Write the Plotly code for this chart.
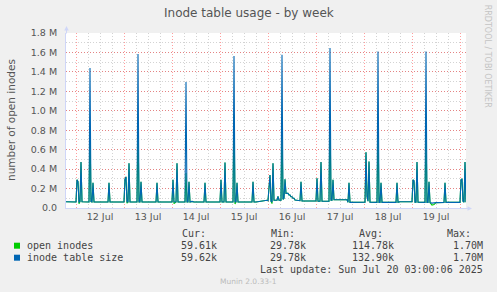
import plotly.graph_objects as go

# ---------------- data (values in millions of inodes, 30-min samples) ----------------
day_dates = ["2025-07-11", "2025-07-12", "2025-07-13", "2025-07-14", "2025-07-15",
             "2025-07-16", "2025-07-17", "2025-07-18", "2025-07-19", "2025-07-20"]

clock_times = [
    ["19:00", "23:30"],
    ["00:00", "00:30", "01:00", "01:30", "02:00", "02:30", "03:00", "06:30", "07:00", "07:30",
     "08:00", "08:30", "09:00", "16:00", "16:30", "17:00", "23:30"],
    ["00:00", "00:30", "01:00", "01:30", "02:00", "02:30", "03:00", "06:30", "07:00", "07:30",
     "08:00", "08:30", "09:00", "16:00", "16:30", "17:00", "23:30"],
    ["00:00", "00:30", "01:00", "02:00", "02:30", "03:00", "06:30", "07:00", "07:30", "08:00",
     "08:30", "09:00", "10:00", "11:00", "16:00", "16:30", "17:00", "23:30"],
    ["00:00", "00:30", "01:00", "02:00", "02:30", "03:00", "06:30", "07:00", "07:30", "08:00",
     "08:30", "09:00", "16:00", "16:30", "17:00", "18:00", "20:00", "22:00", "23:30"],
    ["00:00", "00:30", "01:00", "01:30", "02:00", "02:30", "03:00", "04:30", "05:00", "05:30",
     "06:30", "07:00", "07:30", "08:00", "08:30", "09:00", "10:00", "10:30", "11:00", "11:30",
     "12:00", "12:30", "13:00", "13:30", "15:30", "16:00", "16:30", "17:00", "23:30"],
    ["00:00", "00:30", "01:00", "02:00", "02:30", "03:00", "06:30", "07:00", "07:30", "08:00",
     "08:30", "09:00", "15:30", "16:00", "16:30", "17:00", "23:30"],
    ["00:00", "00:30", "01:00", "01:30", "02:00", "02:30", "03:00", "06:30", "07:00", "07:30",
     "08:00", "08:30", "09:00", "16:00", "16:30", "17:00", "18:00", "23:30"],
    ["00:00", "00:30", "01:00", "01:30", "02:00", "02:30", "03:00", "06:30", "07:00", "07:30",
     "08:00", "08:30", "09:00", "10:00", "11:00", "12:00", "16:00", "16:30", "17:00", "23:30"],
    ["00:00", "00:30", "01:00", "01:30", "02:00", "02:30", "03:00"],
]

inode_table_size = [
    [0.065, 0.062],
    [0.062, 0.29, 0.27, 0.06, 0.065, 0.474, 0.065, 0.062, 1.44, 0.065,
     0.062, 0.26, 0.062, 0.062, 0.26, 0.062, 0.062],
    [0.062, 0.296, 0.32, 0.062, 0.062, 0.46, 0.062, 0.062, 1.585, 0.062,
     0.062, 0.27, 0.062, 0.062, 0.26, 0.062, 0.062],
    [0.062, 0.29, 0.062, 0.062, 0.46, 0.062, 0.062, 1.296, 0.062, 0.062,
     0.27, 0.062, 0.068, 0.062, 0.062, 0.26, 0.062, 0.062],
    [0.062, 0.29, 0.062, 0.062, 0.467, 0.062, 0.062, 1.564, 0.062, 0.062,
     0.26, 0.062, 0.062, 0.27, 0.062, 0.062, 0.07, 0.075, 0.08],
    [0.075, 0.28, 0.34, 0.07, 0.06, 0.46, 0.08, 0.08, 0.12, 0.08,
     0.08, 1.577, 0.09, 0.1, 0.296, 0.15, 0.15, 0.134, 0.134, 0.116,
     0.116, 0.1, 0.1, 0.082, 0.082, 0.075, 0.27, 0.072, 0.072],
    [0.072, 0.306, 0.07, 0.07, 0.474, 0.07, 0.07, 1.646, 0.08, 0.08,
     0.29, 0.085, 0.085, 0.06, 0.26, 0.058, 0.058],
    [0.058, 0.06, 0.574, 0.12, 0.07, 0.477, 0.06, 0.058, 1.61, 0.058,
     0.058, 0.26, 0.058, 0.058, 0.26, 0.058, 0.065, 0.065],
    [0.065, 0.29, 0.28, 0.06, 0.06, 0.474, 0.06, 0.058, 1.61, 0.058,
     0.058, 0.27, 0.055, 0.05, 0.05, 0.055, 0.058, 0.26, 0.058, 0.058],
    [0.058, 0.29, 0.30, 0.07, 0.06, 0.474, 0.0596],
]

open_inodes = [
    [0.065, 0.062],
    [0.062, 0.29, 0.27, 0.045, 0.065, 0.474, 0.065, 0.062, 0.82, 0.065,
     0.062, 0.26, 0.062, 0.062, 0.26, 0.062, 0.062],
    [0.062, 0.296, 0.32, 0.05, 0.062, 0.46, 0.062, 0.062, 0.84, 0.062,
     0.062, 0.27, 0.062, 0.062, 0.26, 0.062, 0.062],
    [0.062, 0.29, 0.045, 0.062, 0.46, 0.062, 0.062, 0.36, 0.062, 0.062,
     0.27, 0.062, 0.068, 0.062, 0.062, 0.26, 0.062, 0.062],
    [0.062, 0.29, 0.062, 0.062, 0.467, 0.062, 0.062, 0.96, 0.04, 0.062,
     0.26, 0.062, 0.062, 0.27, 0.062, 0.062, 0.07, 0.075, 0.08],
    [0.075, 0.28, 0.34, 0.07, 0.045, 0.46, 0.08, 0.08, 0.12, 0.08,
     0.08, 0.83, 0.09, 0.1, 0.296, 0.15, 0.15, 0.134, 0.134, 0.116,
     0.116, 0.1, 0.1, 0.082, 0.082, 0.075, 0.27, 0.072, 0.072],
    [0.072, 0.306, 0.07, 0.07, 0.474, 0.07, 0.07, 0.94, 0.08, 0.08,
     0.29, 0.085, 0.085, 0.06, 0.26, 0.058, 0.058],
    [0.058, 0.06, 0.574, 0.12, 0.07, 0.477, 0.06, 0.058, 0.83, 0.058,
     0.058, 0.26, 0.058, 0.058, 0.26, 0.058, 0.065, 0.065],
    [0.065, 0.29, 0.28, 0.06, 0.06, 0.474, 0.06, 0.058, 0.83, 0.058,
     0.058, 0.27, 0.055, 0.03, 0.035, 0.055, 0.058, 0.26, 0.058, 0.058],
    [0.058, 0.29, 0.30, 0.07, 0.06, 0.474, 0.0596],
]

x_range = ["2025-07-11 19:00", "2025-07-20 03:00"]
y_tick_vals = [0.0, 0.2, 0.4, 0.6, 0.8, 1.0, 1.2, 1.4, 1.6, 1.8]
y_tick_text = ["0.0", "0.2 M", "0.4 M", "0.6 M", "0.8 M", "1.0 M", "1.2 M", "1.4 M", "1.6 M", "1.8 M"]

series_names = ["open inodes", "inode table size"]
series_colors = ["#00CC00", "#0066B3"]
stat_cur = ["59.61k", "59.62k"]
stat_min = ["29.78k", "29.78k"]
stat_avg = ["114.78k", "132.90k"]
stat_max = ["1.70M", "1.70M"]

# ---------------- flatten ----------------
times, size_vals, open_vals = [], [], []
for d, cl, s, o in zip(day_dates, clock_times, inode_table_size, open_inodes):
    assert len(cl) == len(s) == len(o), d
    times += [f"{d} {c}" for c in cl]
    size_vals += s
    open_vals += o

# ---------------- layout geometry ----------------
W, H = 497, 292
L, R, T, B = 66, 31, 33, 84
PW, PH = W - L - R, H - T - B
PLOT_BOTTOM = T + PH


def px(x):
    return (x - L) / PW


def py(y):
    return (PLOT_BOTTOM - y) / PH


AXIS_COL = "#CFD6F8"
MAJOR_GRID = "rgba(255,0,0,0.38)"
MINOR_GRID = "rgba(150,150,150,0.42)"
TXT = "#555555"
SANS = "DejaVu Sans"
MONO = "DejaVu Sans Mono"

fig = go.Figure()
fig.add_trace(go.Scatter(x=times, y=open_vals, mode="lines", name=series_names[0],
                         line=dict(color=series_colors[0], width=1.1), hoverinfo="skip"))
fig.add_trace(go.Scatter(x=times, y=size_vals, mode="lines", name=series_names[1],
                         line=dict(color=series_colors[1], width=1.1), hoverinfo="skip"))

fig.update_layout(
    width=W, height=H,
    margin=dict(l=L, r=R, t=T, b=B, pad=0),
    paper_bgcolor="#F0F0F0", plot_bgcolor="#FFFFFF",
    showlegend=False,
    xaxis=dict(
        type="date", range=x_range, showline=True, linecolor=AXIS_COL, linewidth=1,
        tick0="2025-07-12", dtick=86400000, ticklabelmode="period", tickformat="%d %b",
        ticks="", showgrid=True, gridcolor=MAJOR_GRID, griddash="1px,2px", gridwidth=1,
        zeroline=False, tickfont=dict(family=SANS, size=9.5, color=TXT),
        minor=dict(tick0="2025-07-12", dtick=21600000, showgrid=True, gridcolor=MINOR_GRID,
                   griddash="1px,2px", gridwidth=1),
    ),
    yaxis=dict(
        range=[0, 1.8], tickmode="array", tickvals=y_tick_vals, ticktext=y_tick_text,
        showline=True, linecolor=AXIS_COL, linewidth=1, ticks="", ticklabelstandoff=6,
        showgrid=True, gridcolor=MAJOR_GRID, griddash="1px,2px", gridwidth=1,
        zeroline=False, tickfont=dict(family=SANS, size=9.5, color=TXT),
        minor=dict(tick0=0, dtick=0.1, showgrid=True, gridcolor=MINOR_GRID,
                   griddash="1px,2px", gridwidth=1),
    ),
)

ann = []


def text(x, y, s, size=10, family=MONO, color="#444444", xanchor="left", angle=0):
    ann.append(dict(xref="paper", yref="paper", x=px(x), y=py(y), text=s, showarrow=False,
                    xanchor=xanchor, yanchor="middle", textangle=angle, borderpad=0,
                    borderwidth=0, font=dict(family=family, size=size, color=color)))


# title and axis title
text(248.5, 13.3, "Inode table usage - by week", size=12, family=SANS, color=TXT, xanchor="center")
text(11, 120, "number of open inodes", size=10.5, family=SANS, color=TXT, xanchor="center", angle=-90)
text(488.3, 56, "RRDTOOL / TOBI OETIKER", size=8, family=SANS, color="#C4C4C4",
     xanchor="center", angle=90)

# legend table
text(181.7, 233.3, "Cur:")
text(270.7, 233.3, "Min:")
text(359.0, 233.3, "Avg:")
text(447.3, 233.3, "Max:")
rows_y = [245.7, 257.7]
shapes = []
for i in range(2):
    yy = rows_y[i]
    shapes.append(dict(type="rect", xref="paper", yref="paper", x0=px(14), x1=px(20),
                       y0=py(yy + 3), y1=py(yy - 3), fillcolor=series_colors[i], line=dict(width=0)))
    text(26.7, yy, series_names[i])
    text(216.7, yy, stat_cur[i], xanchor="right")
    text(306.0, yy, stat_min[i], xanchor="right")
    text(394.3, yy, stat_avg[i], xanchor="right")
    text(483.3, yy, stat_max[i], xanchor="right")
text(483.3, 269.3, "Last update: Sun Jul 20 03:00:06 2025", xanchor="right")
text(248.7, 281, "Munin 2.0.33-1", size=7.5, family=SANS, color="#BBBBBB", xanchor="center")

# axis arrows
ann.append(dict(xref="paper", yref="paper", x=px(66.5), y=py(26), ax=0, ay=9, showarrow=True,
                arrowhead=2, arrowsize=0.9, arrowwidth=1, arrowcolor=AXIS_COL, text=""))
ann.append(dict(xref="paper", yref="paper", x=px(472), y=py(208.5), ax=-9, ay=0, showarrow=True,
                arrowhead=2, arrowsize=0.9, arrowwidth=1, arrowcolor=AXIS_COL, text=""))

fig.update_layout(annotations=ann, shapes=shapes)
fig.write_html("out.html")
